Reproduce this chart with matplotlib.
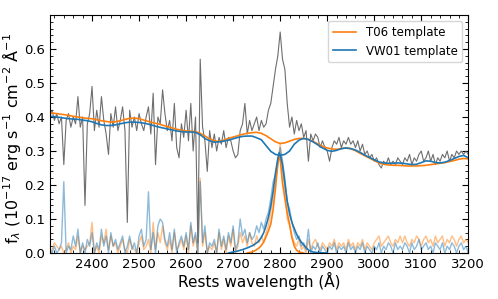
import numpy as np
import matplotlib
matplotlib.use('Agg')
import matplotlib.pyplot as plt
from matplotlib.ticker import AutoMinorLocator

#observed spectrum, 5 A steps from 2310 to 3200
waveData = np.arange(2310, 3201, 5)
fluxData = [
	0.40, 0.42, 0.39, 0.41, 0.38, 0.40, 0.26, 0.39, 0.41, 0.37,
	0.40, 0.38, 0.46, 0.37, 0.40, 0.14, 0.38, 0.41, 0.49, 0.36,
	0.42, 0.37, 0.46, 0.39, 0.35, 0.29, 0.41, 0.37, 0.43, 0.36,
	0.39, 0.43, 0.36, 0.09, 0.42, 0.37, 0.40, 0.36, 0.41, 0.38,
	0.36, 0.40, 0.43, 0.35, 0.47, 0.26, 0.40, 0.38, 0.48, 0.41,
	0.36, 0.39, 0.33, 0.44, 0.31, 0.28, 0.38, 0.34, 0.42, 0.33,
	0.44, 0.30, 0.40, 0.03, 0.57, 0.37, 0.33, 0.24, 0.36, 0.31,
	0.35, 0.30, 0.34, 0.32, 0.36, 0.31, 0.34, 0.33, 0.30, 0.28,
	0.29, 0.36, 0.38, 0.44, 0.35, 0.39, 0.36, 0.38, 0.40, 0.36,
	0.39, 0.37, 0.38, 0.42, 0.44, 0.49, 0.54, 0.58, 0.65, 0.57,
	0.54, 0.44, 0.37, 0.40, 0.35, 0.39, 0.36, 0.38, 0.34, 0.36,
	0.27, 0.35, 0.33, 0.35, 0.34, 0.31, 0.33, 0.31, 0.30, 0.27,
	0.31, 0.33, 0.32, 0.34, 0.31, 0.33, 0.32, 0.34, 0.32, 0.33,
	0.31, 0.33, 0.30, 0.32, 0.29, 0.30, 0.28, 0.29, 0.27, 0.28,
	0.26, 0.25, 0.27, 0.26, 0.28, 0.26, 0.27, 0.26, 0.28, 0.27,
	0.26, 0.28, 0.27, 0.29, 0.26, 0.28, 0.27, 0.29, 0.30, 0.27,
	0.28, 0.30, 0.27, 0.29, 0.26, 0.28, 0.27, 0.29, 0.28, 0.30,
	0.27, 0.29, 0.28, 0.30, 0.29, 0.30, 0.29, 0.30, 0.29]

#residual (line) spectra for both templates, same grid
residT06 = [
	0.00, 0.01, 0.03, 0.02, 0.01, 0.02, 0.00, 0.01, 0.03, 0.00,
	0.02, 0.01, 0.05, 0.00, 0.02, 0.01, 0.02, 0.03, 0.09, 0.00,
	0.02, 0.00, 0.05, 0.03, 0.07, 0.01, 0.05, 0.02, 0.03, 0.00,
	0.02, 0.04, 0.01, 0.00, 0.04, 0.02, 0.01, 0.00, 0.03, 0.05,
	0.01, 0.02, 0.04, 0.00, 0.09, 0.01, 0.06, 0.03, 0.08, 0.03,
	0.01, 0.04, 0.00, 0.06, 0.01, 0.02, 0.04, 0.01, 0.05, 0.00,
	0.08, 0.02, 0.05, 0.00, 0.22, 0.02, 0.06, 0.00, 0.02, 0.01,
	0.03, 0.00, 0.06, 0.01, 0.04, 0.00, 0.05, 0.02, 0.07, 0.00,
	0.02, 0.06, 0.03, 0.05, 0.02, 0.06, 0.03, 0.02, 0.05, 0.03,
	0.05, 0.03, 0.06, 0.08, 0.12, 0.16, 0.21, 0.26, 0.32, 0.25,
	0.18, 0.10, 0.08, 0.05, 0.03, 0.02, 0.04, 0.01, 0.02, 0.00,
	0.04, 0.01, 0.03, 0.04, 0.02, 0.01, 0.03, 0.02, 0.01, 0.03,
	0.02, 0.04, 0.01, 0.03, 0.02, 0.03, 0.01, 0.04, 0.02, 0.03,
	0.01, 0.03, 0.02, 0.04, 0.01, 0.03, 0.02, 0.01, 0.03, 0.04,
	0.05, 0.02, 0.03, 0.04, 0.05, 0.03, 0.02, 0.04, 0.03, 0.05,
	0.03, 0.05, 0.03, 0.02, 0.04, 0.03, 0.05, 0.04, 0.02, 0.04,
	0.05, 0.03, 0.04, 0.02, 0.05, 0.03, 0.04, 0.05, 0.02, 0.04,
	0.03, 0.05, 0.04, 0.02, 0.04, 0.05, 0.03, 0.04, 0.03]
residVW01 = [
	0.01, 0.00, 0.02, 0.00, 0.01, 0.03, 0.21, 0.00, 0.02, 0.01,
	0.05, 0.02, 0.07, 0.00, 0.03, 0.00, 0.04, 0.02, 0.06, 0.00,
	0.03, 0.01, 0.07, 0.02, 0.05, 0.00, 0.06, 0.02, 0.04, 0.01,
	0.03, 0.05, 0.00, 0.02, 0.05, 0.01, 0.03, 0.00, 0.05, 0.07,
	0.02, 0.04, 0.18, 0.01, 0.06, 0.00, 0.08, 0.10, 0.09, 0.04,
	0.02, 0.06, 0.01, 0.07, 0.00, 0.03, 0.05, 0.02, 0.06, 0.01,
	0.09, 0.03, 0.06, 0.00, 0.21, 0.03, 0.08, 0.00, 0.03, 0.02,
	0.04, 0.00, 0.07, 0.02, 0.05, 0.01, 0.06, 0.03, 0.08, 0.01,
	0.03, 0.10, 0.05, 0.07, 0.03, 0.06, 0.04, 0.05, 0.08, 0.06,
	0.09, 0.07, 0.10, 0.12, 0.16, 0.21, 0.23, 0.27, 0.31, 0.27,
	0.22, 0.15, 0.13, 0.09, 0.06, 0.04, 0.05, 0.02, 0.03, 0.01,
	0.07, 0.00, 0.02, 0.01, 0.03, 0.00, 0.02, 0.01, 0.00, 0.02,
	0.01, 0.03, 0.00, 0.02, 0.01, 0.02, 0.00, 0.03, 0.01, 0.02,
	0.00, 0.02, 0.01, 0.03, 0.00, 0.02, 0.01, 0.00, 0.02, 0.01,
	0.03, 0.00, 0.02, 0.01, 0.03, 0.02, 0.00, 0.03, 0.01, 0.02,
	0.01, 0.03, 0.02, 0.00, 0.03, 0.01, 0.02, 0.04, 0.01, 0.02,
	0.03, 0.01, 0.02, 0.00, 0.03, 0.02, 0.01, 0.03, 0.00, 0.02,
	0.01, 0.03, 0.02, 0.00, 0.02, 0.03, 0.01, 0.02, 0.00]

#pseudo-continuum (power law + FeII) for each template, 10 A steps
waveCont = np.arange(2310, 3201, 10)
contT06 = [
	0.413, 0.411, 0.409, 0.407, 0.405, 0.402, 0.400, 0.398, 0.396, 0.395,
	0.392, 0.389, 0.387, 0.385, 0.386, 0.389, 0.393, 0.396, 0.397, 0.395,
	0.391, 0.387, 0.383, 0.380, 0.376, 0.372, 0.368, 0.364, 0.361, 0.359,
	0.358, 0.357, 0.352, 0.344, 0.336, 0.330, 0.328, 0.332, 0.337, 0.341,
	0.345, 0.349, 0.352, 0.354, 0.355, 0.352, 0.345, 0.336, 0.327, 0.322,
	0.324, 0.329, 0.334, 0.337, 0.337, 0.334, 0.328, 0.321, 0.314, 0.309,
	0.306, 0.305, 0.307, 0.309, 0.307, 0.301, 0.293, 0.286, 0.279, 0.272,
	0.265, 0.261, 0.259, 0.258, 0.258, 0.257, 0.256, 0.256, 0.256, 0.257,
	0.258, 0.260, 0.262, 0.264, 0.266, 0.269, 0.272, 0.276, 0.278, 0.277]
contVW01 = [
	0.402, 0.401, 0.399, 0.397, 0.395, 0.394, 0.393, 0.391, 0.389, 0.386,
	0.381, 0.377, 0.375, 0.375, 0.377, 0.380, 0.383, 0.385, 0.385, 0.384,
	0.382, 0.379, 0.375, 0.371, 0.368, 0.365, 0.362, 0.359, 0.357, 0.356,
	0.356, 0.355, 0.348, 0.337, 0.330, 0.326, 0.327, 0.329, 0.332, 0.336,
	0.340, 0.343, 0.344, 0.344, 0.339, 0.333, 0.316, 0.299, 0.290, 0.287,
	0.290, 0.300, 0.320, 0.332, 0.337, 0.334, 0.327, 0.318, 0.309, 0.302,
	0.299, 0.302, 0.307, 0.309, 0.307, 0.303, 0.296, 0.288, 0.281, 0.274,
	0.268, 0.265, 0.264, 0.264, 0.265, 0.264, 0.262, 0.260, 0.261, 0.266,
	0.271, 0.270, 0.266, 0.265, 0.267, 0.272, 0.278, 0.284, 0.287, 0.280]

#MgII line fits
waveLineT06 = [2730, 2740, 2745, 2750, 2755, 2760, 2765, 2770, 2775, 2780, 2785, 2790,
	2795, 2798, 2800, 2805, 2810, 2815, 2820, 2825, 2830, 2835, 2840, 2850]
lineT06 = [0.000, 0.003, 0.006, 0.010, 0.015, 0.022, 0.033, 0.048, 0.065, 0.085, 0.128, 0.190,
	0.262, 0.285, 0.278, 0.205, 0.160, 0.118, 0.085, 0.045, 0.020, 0.008, 0.003, 0.000]
waveLineVW01 = [2690, 2700, 2710, 2720, 2730, 2740, 2745, 2750, 2755, 2760, 2765, 2770, 2775,
	2780, 2785, 2790, 2795, 2798, 2800, 2805, 2810, 2815, 2820, 2825, 2830, 2835, 2840,
	2845, 2850, 2855, 2860, 2865, 2870, 2880, 2900]
lineVW01 = [0.000, 0.003, 0.006, 0.010, 0.015, 0.021, 0.025, 0.030, 0.036, 0.046, 0.060, 0.080, 0.105,
	0.138, 0.182, 0.235, 0.278, 0.295, 0.290, 0.258, 0.205, 0.152, 0.115, 0.090, 0.072, 0.055, 0.042,
	0.032, 0.024, 0.016, 0.009, 0.005, 0.003, 0.001, 0.000]

orange = '#ff7f0e'
blue = '#1f77b4'

fig = plt.figure(figsize=(4.98, 2.99), dpi=100)
ax = fig.add_axes([0.0998, 0.1538, 0.8406, 0.796])

ax.plot(waveData, residT06, color=orange, alpha=0.5, lw=1.0)
ax.plot(waveData, residVW01, color=blue, alpha=0.5, lw=1.0)
ax.plot(waveData, fluxData, color='#555555', alpha=0.85, lw=0.8)
ax.plot(waveLineT06, lineT06, color=orange, lw=1.2)
ax.plot(waveLineVW01, lineVW01, color=blue, lw=1.2)
ax.plot(waveCont, contT06, color=orange, lw=1.2, label='T06 template')
ax.plot(waveCont, contVW01, color=blue, lw=1.2, label='VW01 template')

ax.set_xlim(2310, 3200)
ax.set_ylim(0, 0.7)
ax.set_xticks([2400, 2500, 2600, 2700, 2800, 2900, 3000, 3100, 3200])
ax.set_yticks([0.0, 0.1, 0.2, 0.3, 0.4, 0.5, 0.6])
ax.xaxis.set_minor_locator(AutoMinorLocator(5))
ax.yaxis.set_minor_locator(AutoMinorLocator(5))
ax.tick_params(which='both', direction='in', top=True, right=True, labelsize=9.5)
ax.tick_params(which='major', length=4)
ax.tick_params(which='minor', length=2)

ax.set_xlabel('Rests wavelength (Å)', fontsize=11, labelpad=1)
#the closing bracket is not drawn in the original label
ax.set_ylabel(r'f$_\lambda$ (10$^{-17}$ erg s$^{-1}$ cm$^{-2}$ Å$^{-1}$', fontsize=11.5)
ax.yaxis.set_label_coords(-0.064, 0.48)
ax.legend(loc='upper right', fontsize=8.5)

plt.savefig('out.png', dpi=100)
